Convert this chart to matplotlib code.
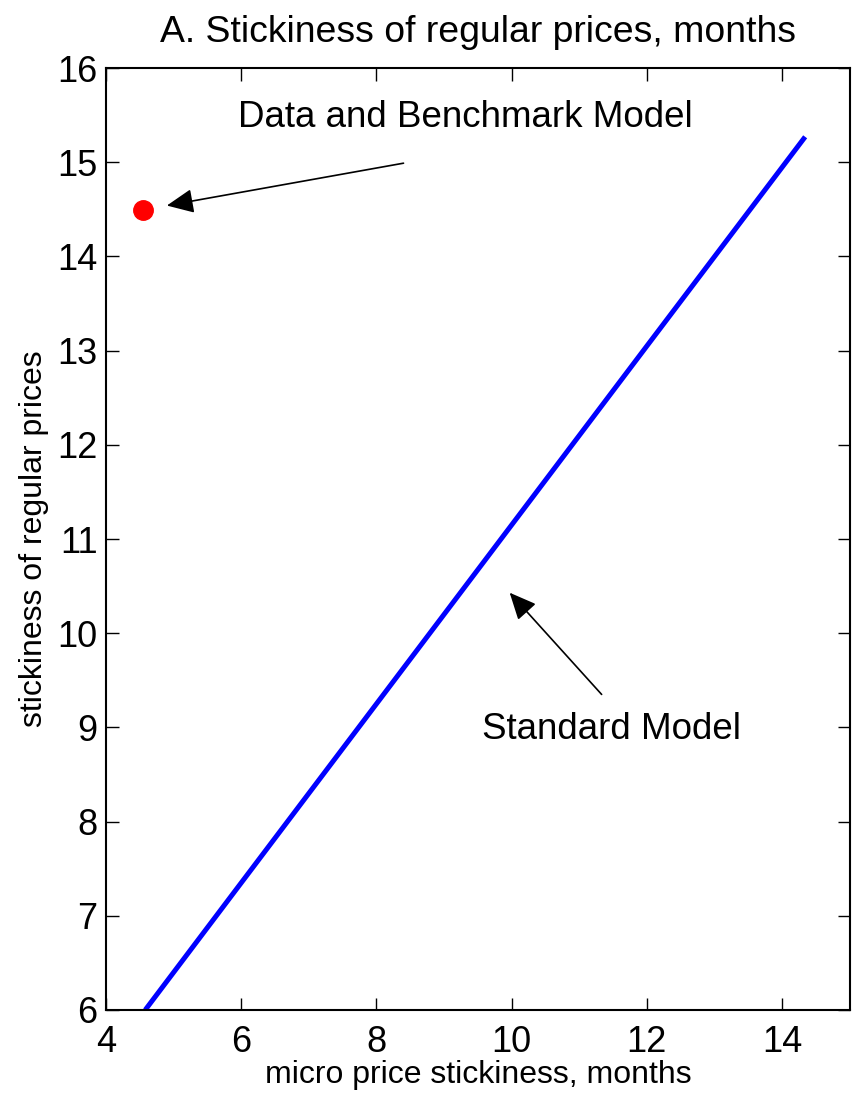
import matplotlib
matplotlib.use("Agg")
import matplotlib.pyplot as plt

plt.rcParams['font.family'] = ['Liberation Sans', 'DejaVu Sans']

# standard model line
std_x = [4.58, 6.0, 8.0, 10.0, 12.0, 14.34]
std_y = [6.0, 7.35, 9.25, 11.15, 13.05, 15.27]

# data and benchmark model point
bench_x = [4.55]
bench_y = [14.49]

x_ticks = [4, 6, 8, 10, 12, 14]
y_ticks = [6, 7, 8, 9, 10, 11, 12, 13, 14, 15, 16]

fig = plt.figure(figsize=(8.52, 10.94), dpi=100)
ax = fig.add_axes([0.1244, 0.0768, 0.873, 0.861])

ax.plot(std_x, std_y, color='#0000ff', linewidth=3.6, solid_capstyle='butt')
ax.plot(bench_x, bench_y, 'o', color='#ff0000', markersize=14)

arrow = dict(arrowstyle='-|>,head_length=0.55,head_width=0.25', color='black',
             lw=1.2, mutation_scale=30, shrinkA=0, shrinkB=0)
ax.annotate('', xy=(4.9, 14.54), xytext=(8.4, 14.99), arrowprops=arrow)
ax.annotate('', xy=(9.97, 10.43), xytext=(11.33, 9.35), arrowprops=arrow)
ax.text(9.31, 15.47, 'Data and Benchmark Model', fontsize=26.5, ha='center', va='center')
ax.text(11.47, 8.98, 'Standard Model', fontsize=26.5, ha='center', va='center')

ax.set_xlim(4, 15)
ax.set_ylim(6, 16)
ax.set_xticks(x_ticks)
ax.set_yticks(y_ticks)
ax.tick_params(direction='in', length=9, width=1, labelsize=26, top=True, right=True, pad=6)
ax.tick_params(axis='x', pad=11)
for s in ax.spines.values():
    s.set_linewidth(1.5)

ax.set_title('A. Stickiness of regular prices, months', fontsize=26.9, pad=19)
ax.set_xlabel('micro price stickiness, months', fontsize=23, labelpad=0)
ax.set_ylabel('stickiness of regular prices', fontsize=23, labelpad=6)

fig.savefig('out.png', dpi=100)
